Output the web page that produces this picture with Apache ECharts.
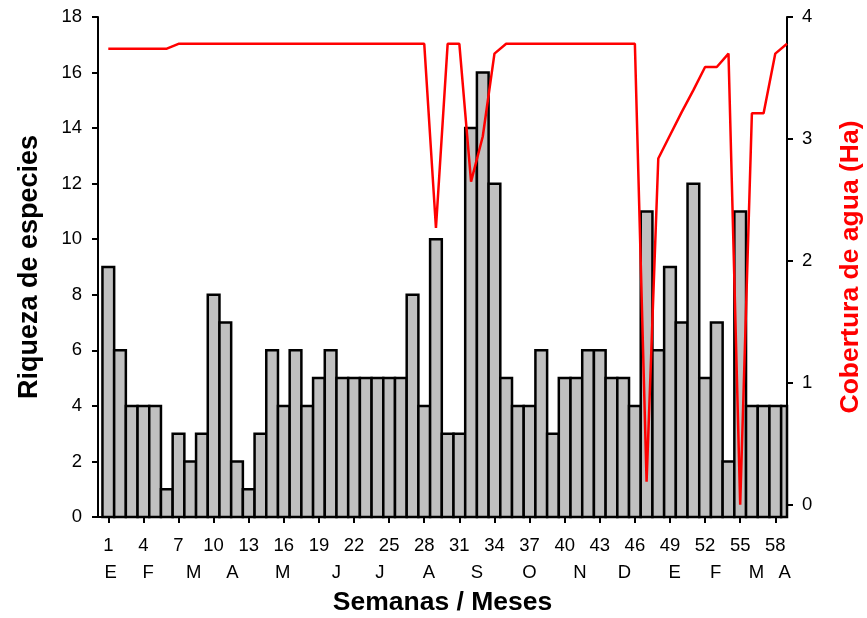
<!DOCTYPE html>
<html>
<head>
<meta charset="utf-8">
<script src="https://cdn.jsdelivr.net/npm/echarts@6/dist/echarts.min.js"></script>
<style>
  html, body { margin: 0; padding: 0; background: #fff; }
  #chart { width: 867px; height: 618px; }
</style>
</head>
<body>
<div id="chart"></div>
<script>
// semanas (1..59)
const weeks = [1, 2, 3, 4, 5, 6, 7, 8, 9, 10, 11, 12, 13, 14, 15, 16, 17, 18, 19, 20,
  21, 22, 23, 24, 25, 26, 27, 28, 29, 30, 31, 32, 33, 34, 35, 36, 37, 38, 39, 40,
  41, 42, 43, 44, 45, 46, 47, 48, 49, 50, 51, 52, 53, 54, 55, 56, 57, 58, 59]
// riqueza de especies por semana
const richness = [9, 6, 4, 4, 4, 1, 3, 2, 3, 8, 7, 2, 1, 3, 6, 4, 6, 4, 5, 6,
  5, 5, 5, 5, 5, 5, 8, 4, 10, 3, 3, 14, 16, 12, 5, 4, 4, 6, 3, 5,
  5, 6, 6, 5, 5, 4, 11, 6, 9, 7, 12, 5, 7, 2, 11, 4, 4, 4, 4]
// cobertura de agua (Ha)
const water = [3.74, 3.74, 3.74, 3.74, 3.74, 3.74, 3.78, 3.78, 3.78, 3.78,
  3.78, 3.78, 3.78, 3.78, 3.78, 3.78, 3.78, 3.78, 3.78, 3.78,
  3.78, 3.78, 3.78, 3.78, 3.78, 3.78, 3.78, 3.78, 2.27, 3.78,
  3.78, 2.65, 3.02, 3.70, 3.78, 3.78, 3.78, 3.78, 3.78, 3.78,
  3.78, 3.78, 3.78, 3.78, 3.78, 3.78, 0.19, 2.84, 3.03, 3.22,
  3.40, 3.59, 3.59, 3.70, 0.00, 3.21, 3.21, 3.70, 3.78]
// etiquetas del eje x
const weekTicks = [1, 4, 7, 10, 13, 16, 19, 22, 25, 28, 31, 34, 37, 40, 43, 46, 49, 52, 55, 58]
const months = ['E', 'F', 'M', 'A', 'M', 'J', 'J', 'A', 'S', 'O', 'N', 'D', 'E', 'F', 'M', 'A']
const monthPos = [1.2, 4.4, 8.3, 11.6, 15.9, 20.5, 24.2, 28.4, 32.5, 37.0, 41.3, 45.1, 49.4, 52.9, 56.4, 58.8]
const leftTicks = [0, 2, 4, 6, 8, 10, 12, 14, 16, 18]
const rightTicks = [0, 1, 2, 3, 4]

const font = 'Liberation Sans, Arial, sans-serif'

// barra recortada al area del grid (la ultima semana queda a medias)
function renderBar (params, api) {
  let x = api.value(0)
  let base = api.coord([x, 0])
  let top = api.coord([x, api.value(1)])
  let w = api.size([1, 0])[0]
  let rect = echarts.graphic.clipRectByRect({
    x: base[0] - w / 2,
    y: top[1],
    width: w,
    height: base[1] - top[1]
  }, {
    x: params.coordSys.x,
    y: params.coordSys.y,
    width: params.coordSys.width,
    height: params.coordSys.height
  })
  return rect && {
    type: 'rect',
    shape: rect,
    style: {
      fill: '#c0c0c0',
      stroke: '#000',
      lineWidth: 2.5
    }
  }
}

let myChart = echarts.init(document.getElementById('chart'))
myChart.setOption({
  animation: false,
  grid: {
    left: 98,
    right: 80,
    top: 17,
    bottom: 101,
    outerBoundsMode: 'none'
  },
  xAxis: [
    {
      type: 'value',
      min: 0.12,
      max: 59,
      name: 'Semanas / Meses',
      nameLocation: 'middle',
      nameGap: 72,
      nameTextStyle: {
        fontFamily: font,
        fontSize: 26.5,
        fontWeight: 'bold',
        color: '#000'
      },
      axisLine: {
        lineStyle: { color: '#000', width: 2 }
      },
      axisTick: {
        customValues: weekTicks,
        length: 6,
        lineStyle: { color: '#000', width: 2 }
      },
      axisLabel: {
        customValues: weekTicks,
        margin: 19,
        fontFamily: font,
        fontSize: 18.5,
        color: '#000'
      },
      splitLine: { show: false }
    },
    {
      type: 'value',
      position: 'bottom',
      min: 0.12,
      max: 59,
      axisLine: { show: false },
      axisTick: { show: false },
      axisLabel: {
        customValues: monthPos,
        margin: 46,
        fontFamily: font,
        fontSize: 18.5,
        color: '#000',
        formatter: function (value) {
          for (let i = 0; i < monthPos.length; i++) {
            if (Math.abs(monthPos[i] - value) < 0.01) return months[i]
          }
          return ''
        }
      },
      splitLine: { show: false }
    }
  ],
  yAxis: [
    {
      type: 'value',
      min: 0,
      max: 18,
      interval: 2,
      name: 'Riqueza de especies',
      nameLocation: 'middle',
      nameGap: 55,
      nameRotate: 90,
      nameTextStyle: {
        fontFamily: font,
        fontSize: 27,
        fontWeight: 'bold',
        color: '#000'
      },
      axisLine: {
        show: true,
        lineStyle: { color: '#000', width: 2 }
      },
      axisTick: {
        show: true,
        customValues: leftTicks,
        length: 6,
        lineStyle: { color: '#000', width: 2 }
      },
      axisLabel: {
        customValues: leftTicks,
        margin: 16,
        fontFamily: font,
        fontSize: 18.5,
        color: '#000'
      },
      splitLine: { show: false }
    },
    {
      type: 'value',
      position: 'right',
      min: -0.1,
      max: 4,
      name: 'Cobertura de agua (Ha)',
      nameLocation: 'middle',
      nameGap: 50,
      nameRotate: 90,
      nameTextStyle: {
        fontFamily: font,
        fontSize: 26.5,
        fontWeight: 'bold',
        color: '#ff0000'
      },
      axisLine: {
        show: true,
        lineStyle: { color: '#000', width: 2 }
      },
      axisTick: {
        show: true,
        customValues: rightTicks,
        length: 6,
        lineStyle: { color: '#000', width: 2 }
      },
      axisLabel: {
        customValues: rightTicks,
        margin: 15,
        fontFamily: font,
        fontSize: 18.5,
        color: '#000'
      },
      splitLine: { show: false }
    }
  ],
  series: [
    {
      name: 'Riqueza',
      type: 'custom',
      xAxisIndex: 0,
      yAxisIndex: 0,
      renderItem: renderBar,
      encode: { x: 0, y: 1 },
      data: richness.map((v, i) => [weeks[i], v])
    },
    {
      name: 'Cobertura',
      type: 'line',
      xAxisIndex: 0,
      yAxisIndex: 1,
      symbol: 'none',
      z: 3,
      lineStyle: {
        color: '#ff0000',
        width: 2.5
      },
      data: water.map((v, i) => [weeks[i], v])
    }
  ]
})
</script>
</body>
</html>
